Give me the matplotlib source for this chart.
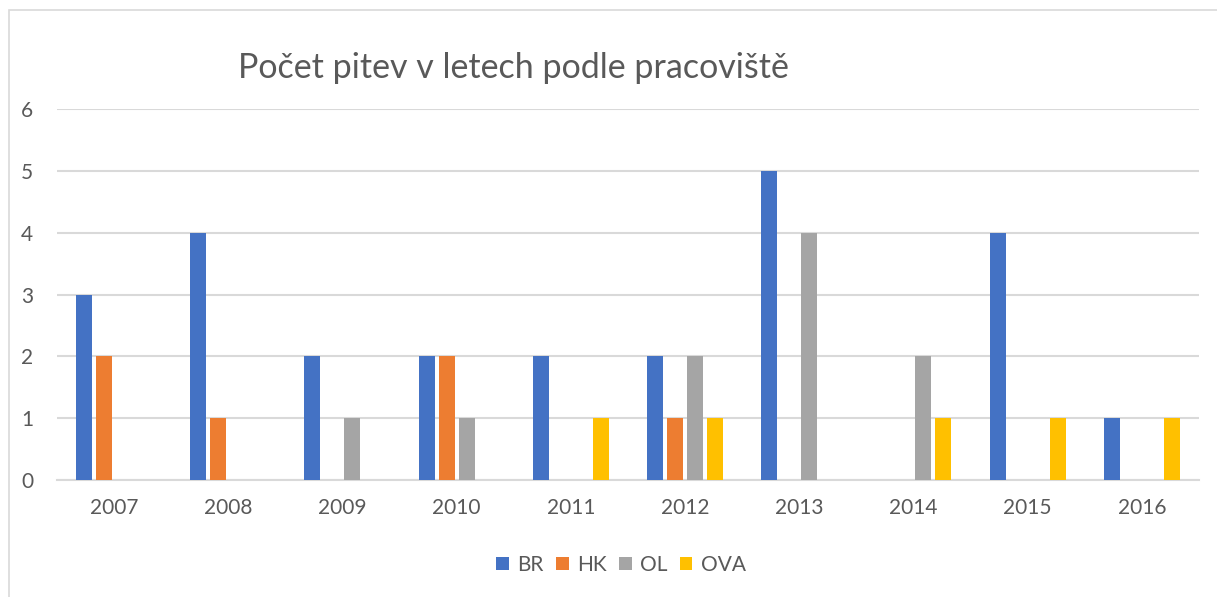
import numpy as np
import matplotlib.pyplot as plt
from matplotlib.patches import Rectangle

plt.rcParams['font.family'] = ['Lato', 'DejaVu Sans']

years = ['2007', '2008', '2009', '2010', '2011', '2012', '2013', '2014', '2015', '2016']
br = [3, 4, 2, 2, 2, 2, 5, 0, 4, 1]
hk = [2, 1, 0, 2, 0, 1, 0, 0, 0, 0]
ol = [0, 0, 1, 1, 0, 2, 4, 2, 0, 0]
ova = [0, 0, 0, 0, 1, 1, 0, 1, 1, 1]

series = [('BR', br, '#4472C4'), ('HK', hk, '#ED7D31'),
          ('OL', ol, '#A5A5A5'), ('OVA', ova, '#FFC000')]

fig = plt.figure(figsize=(12.17, 5.97), dpi=100)
ax = fig.add_axes([0.0468, 0.196, 0.9384, 0.621])

# chart frame
fig.patches.append(Rectangle((9 / 1217, -0.1), 1.2, 1 - 10 / 597 + 0.1,
                             transform=fig.transFigure, fill=False,
                             edgecolor='#D9D9D9', lw=1.2))

x = np.arange(len(years))
w = 0.14
step = 0.175
for i, (name, vals, col) in enumerate(series):
    ax.bar(x + (i - 1.5) * step, vals, width=w, color=col, label=name,
           zorder=3, linewidth=0)

ax.set_xlim(-0.5, len(years) - 0.5)
ax.set_ylim(0, 6)
ax.set_yticks(range(7))
ax.set_xticks(x)
ax.set_xticklabels(years)
ax.grid(axis='y', color='#D9D9D9', lw=1.5, zorder=0)
for s in ['top', 'right', 'left']:
    ax.spines[s].set_visible(False)
ax.spines['bottom'].set_color('#D9D9D9')
ax.spines['bottom'].set_linewidth(1.5)
ax.tick_params(axis='both', length=0, labelsize=15, colors='#595959')
ax.tick_params(axis='y', pad=17)
ax.tick_params(axis='x', pad=13)

fig.text(513 / 1217, 1 - 68 / 597, 'Počet pitev v letech podle pracoviště',
         fontsize=24.5, color='#595959', ha='center', va='center')

fig.legend(loc='center', bbox_to_anchor=(621 / 1217, 1 - 565 / 597), ncol=4,
           frameon=False, fontsize=15, labelcolor='#595959',
           handlelength=0.6, handleheight=0.6, handletextpad=0.4,
           columnspacing=0.6)

fig.savefig('out.png', dpi=100)
